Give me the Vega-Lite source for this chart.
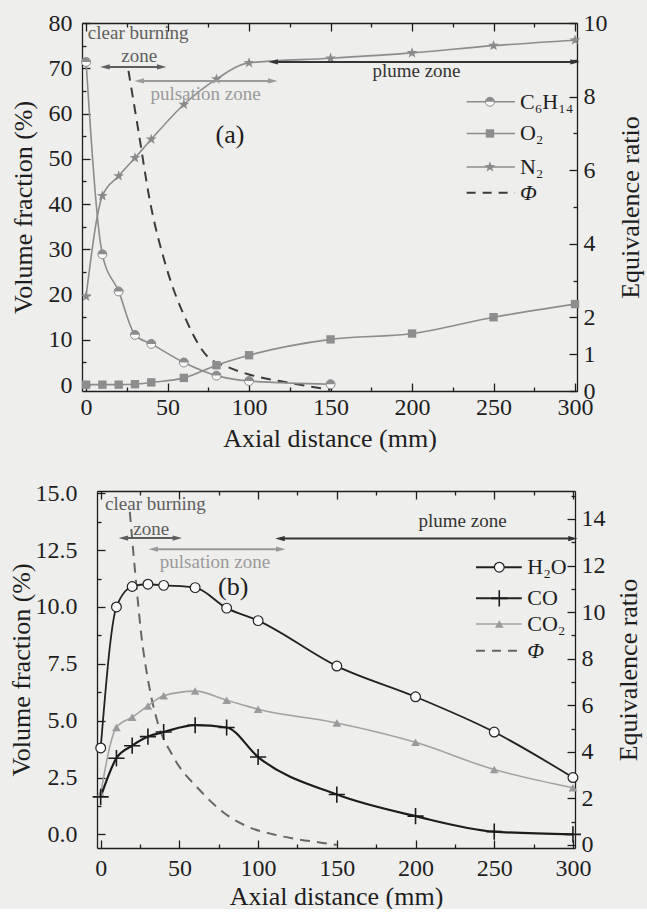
{
  "$schema": "https://vega.github.io/schema/vega-lite/v6.json",
  "background": "#eeeeec",
  "padding": {"left": 8, "top": 11, "right": 6, "bottom": 0},
  "spacing": 30,
  "config": {
    "font": "Liberation Serif",
    "view": {"stroke": null},
    "axis": {
      "domainColor": "#1e1e1e", "domainWidth": 1.3, "tickColor": "#1e1e1e", "tickWidth": 1.3,
      "labelColor": "#1e1e1e", "titleColor": "#1e1e1e", "labelFontSize": 24, "titleFontSize": 26,
      "titleFontWeight": "normal", "grid": false, "labelFont": "Liberation Serif", "titleFont": "Liberation Serif",
      "labelFlush": false, "labelOverlap": false
    }
  },
  "datasets": {
    "a_sp": [
      {"s": "C6H14", "x": 0, "y": 71.4}, {"s": "C6H14", "x": 10, "y": 28.9}, {"s": "C6H14", "x": 20, "y": 20.7},
      {"s": "C6H14", "x": 30, "y": 11.1}, {"s": "C6H14", "x": 40, "y": 9.1}, {"s": "C6H14", "x": 60, "y": 5.0},
      {"s": "C6H14", "x": 80, "y": 2.1}, {"s": "C6H14", "x": 100, "y": 0.9}, {"s": "C6H14", "x": 150, "y": 0.2},
      {"s": "O2", "x": 0, "y": 0.1}, {"s": "O2", "x": 10, "y": 0.1}, {"s": "O2", "x": 20, "y": 0.1},
      {"s": "O2", "x": 30, "y": 0.2}, {"s": "O2", "x": 40, "y": 0.6}, {"s": "O2", "x": 60, "y": 1.6},
      {"s": "O2", "x": 80, "y": 4.4}, {"s": "O2", "x": 100, "y": 6.6}, {"s": "O2", "x": 150, "y": 10.1},
      {"s": "O2", "x": 200, "y": 11.4}, {"s": "O2", "x": 250, "y": 15.0}, {"s": "O2", "x": 300, "y": 17.9},
      {"s": "N2", "x": 0, "y": 19.6}, {"s": "N2", "x": 10, "y": 41.8}, {"s": "N2", "x": 20, "y": 46.2},
      {"s": "N2", "x": 30, "y": 50.2}, {"s": "N2", "x": 40, "y": 54.3}, {"s": "N2", "x": 60, "y": 62.0},
      {"s": "N2", "x": 80, "y": 67.6}, {"s": "N2", "x": 100, "y": 71.2}, {"s": "N2", "x": 150, "y": 72.2},
      {"s": "N2", "x": 200, "y": 73.4}, {"s": "N2", "x": 250, "y": 75.0}, {"s": "N2", "x": 300, "y": 76.2}
    ],
    "a_phi": [
      {"x": 26, "phi": 8.7}, {"x": 32, "phi": 7.1}, {"x": 39, "phi": 5.2}, {"x": 49, "phi": 3.4},
      {"x": 62, "phi": 1.87}, {"x": 74, "phi": 0.96}, {"x": 87, "phi": 0.65}, {"x": 100, "phi": 0.45},
      {"x": 125, "phi": 0.22}, {"x": 150, "phi": 0.03}
    ],
    "a_leg": [
      {"s": "C6H14", "lab": "C₆H₁₄", "x1": 233.5, "x2": 263.1, "xm": 247.8, "xt": 266.2, "y": 62.6},
      {"s": "O2", "lab": "O₂", "x1": 233.5, "x2": 263.1, "xm": 247.8, "xt": 266.2, "y": 55.6},
      {"s": "N2", "lab": "N₂", "x1": 233.5, "x2": 263.1, "xm": 247.8, "xt": 266.2, "y": 48.2},
      {"s": "phi", "lab": "Φ", "x1": 233.5, "x2": 263.1, "xm": 247.8, "xt": 266.2, "y": 42.5}
    ],
    "a_ann": [
      {"t": "clear burning", "k": "clear", "x": 32.0, "y": 77.7},
      {"t": "zone", "k": "clear", "x": 32.6, "y": 72.6},
      {"t": "pulsation zone", "k": "puls", "x": 73.3, "y": 64.3},
      {"t": "plume zone", "k": "plume", "x": 202.7, "y": 69.4}
    ],
    "a_arr": [
      {"k": "clear", "x1": 11.6, "x2": 46.4, "y": 70.3},
      {"k": "puls", "x1": 32.6, "x2": 114.5, "y": 67.2},
      {"k": "plume", "x1": 114.8, "x2": 300, "y": 71.4}
    ],
    "b_sp": [
      {"s": "H2O", "x": 0, "y": 3.8}, {"s": "H2O", "x": 10, "y": 10.0}, {"s": "H2O", "x": 20, "y": 10.9},
      {"s": "H2O", "x": 30, "y": 11.0}, {"s": "H2O", "x": 40, "y": 10.95}, {"s": "H2O", "x": 60, "y": 10.85},
      {"s": "H2O", "x": 80, "y": 9.95}, {"s": "H2O", "x": 100, "y": 9.4}, {"s": "H2O", "x": 150, "y": 7.4},
      {"s": "H2O", "x": 200, "y": 6.05}, {"s": "H2O", "x": 250, "y": 4.5}, {"s": "H2O", "x": 300, "y": 2.5},
      {"s": "CO", "x": 0, "y": 1.65}, {"s": "CO", "x": 10, "y": 3.35}, {"s": "CO", "x": 20, "y": 3.9},
      {"s": "CO", "x": 30, "y": 4.3}, {"s": "CO", "x": 40, "y": 4.5}, {"s": "CO", "x": 60, "y": 4.8},
      {"s": "CO", "x": 80, "y": 4.7}, {"s": "CO", "x": 100, "y": 3.4}, {"s": "CO", "x": 150, "y": 1.75},
      {"s": "CO", "x": 200, "y": 0.8}, {"s": "CO", "x": 250, "y": 0.12}, {"s": "CO", "x": 300, "y": 0.0},
      {"s": "CO2", "x": 0, "y": 1.8}, {"s": "CO2", "x": 10, "y": 4.7}, {"s": "CO2", "x": 20, "y": 5.15},
      {"s": "CO2", "x": 30, "y": 5.65}, {"s": "CO2", "x": 40, "y": 6.1}, {"s": "CO2", "x": 60, "y": 6.3},
      {"s": "CO2", "x": 80, "y": 5.9}, {"s": "CO2", "x": 100, "y": 5.5}, {"s": "CO2", "x": 150, "y": 4.9},
      {"s": "CO2", "x": 200, "y": 4.05}, {"s": "CO2", "x": 250, "y": 2.85}, {"s": "CO2", "x": 300, "y": 2.05}
    ],
    "b_phi": [
      {"x": 18.5, "phi": 14.3}, {"x": 23, "phi": 10.9}, {"x": 26, "phi": 8.9}, {"x": 29, "phi": 7.5},
      {"x": 32, "phi": 6.4}, {"x": 36, "phi": 5.3}, {"x": 46, "phi": 3.8}, {"x": 63, "phi": 2.35},
      {"x": 76, "phi": 1.5}, {"x": 93, "phi": 0.8}, {"x": 110, "phi": 0.45}, {"x": 123, "phi": 0.27},
      {"x": 140, "phi": 0.1}, {"x": 150, "phi": 0.0}
    ],
    "b_leg": [
      {"s": "H2O", "lab": "H₂O", "x1": 238.4, "x2": 267.5, "xm": 253.2, "xt": 271.0, "y": 11.75},
      {"s": "CO", "lab": "CO", "x1": 238.4, "x2": 267.5, "xm": 253.2, "xt": 271.0, "y": 10.38},
      {"s": "CO2", "lab": "CO₂", "x1": 238.4, "x2": 267.5, "xm": 253.2, "xt": 271.0, "y": 9.25},
      {"s": "phi", "lab": "Φ", "x1": 238.4, "x2": 267.5, "xm": 253.2, "xt": 271.0, "y": 8.08}
    ],
    "b_ann": [
      {"t": "clear burning", "k": "clear", "x": 34.8, "y": 14.52},
      {"t": "zone", "k": "clear", "x": 32.1, "y": 13.42},
      {"t": "pulsation zone", "k": "puls", "x": 72.6, "y": 11.96},
      {"t": "plume zone", "k": "plume", "x": 229.9, "y": 13.78}
    ],
    "b_arr": [
      {"k": "clear", "x1": 14.4, "x2": 48.7, "y": 13.03},
      {"k": "puls", "x1": 33.4, "x2": 114.4, "y": 12.54},
      {"k": "plume", "x1": 113.9, "x2": 300, "y": 13.01}
    ]
  },
  "vconcat": [
    {
      "width": 480,
      "height": 368,
      "resolve": {"scale": {"x": "independent", "y": "independent"}},
      "layer": [
        {
          "data": {"values": [{"x": 0, "y": 0}]},
          "mark": {"type": "point", "opacity": 0},
          "encoding": {
            "x": {"field": "x", "type": "quantitative", "scale": {"domain": [-2.5, 301.2], "range": [-15, 480], "nice": false, "zero": false},
                  "axis": {"orient": "bottom", "values": [25, 75, 125, 175, 225, 275], "tickSize": -4, "labels": false, "domain": false, "title": null}},
            "y": {"field": "y", "type": "quantitative", "scale": {"domain": [-1.3, 80], "nice": false, "zero": false},
                  "axis": {"orient": "left", "offset": 15, "values": [5, 15, 25, 35, 45, 55, 65, 75], "tickSize": -4, "labels": false, "domain": false, "title": null}}
          }
        },
        {
          "data": {"values": [{"x": 0, "y": 0}]},
          "mark": {"type": "point", "opacity": 0},
          "encoding": {
            "x": {"field": "x", "type": "quantitative", "scale": {"domain": [-2.5, 301.2], "range": [-15, 480], "nice": false, "zero": false},
                  "axis": {"orient": "top", "values": [25, 75, 125, 175, 225, 275], "tickSize": -4, "labels": false, "domain": false, "title": null}},
            "y": {"field": "y", "type": "quantitative", "scale": {"domain": [0, 10], "nice": false, "zero": false},
                  "axis": {"orient": "right", "values": [3, 5, 7, 9], "tickSize": -4, "labels": false, "domain": false, "title": null}}
          }
        },
        {
          "data": {"name": "a_phi"},
          "mark": {"type": "line", "interpolate": "monotone", "color": "#3c3c3c", "strokeWidth": 2, "strokeDash": [10, 7]},
          "encoding": {
            "x": {"field": "x", "type": "quantitative", "scale": {"domain": [-2.5, 301.2], "range": [-15, 480], "nice": false, "zero": false},
                  "axis": {"orient": "top", "values": [0, 50, 100, 150, 200, 250, 300], "tickSize": -8, "labels": false, "title": null}},
            "y": {"field": "phi", "type": "quantitative", "scale": {"domain": [0, 10], "nice": false, "zero": false},
                  "axis": {"orient": "right", "values": [0, 1, 2, 4, 6, 8, 10], "tickSize": -8, "labelPadding": 14, "title": "Equivalence ratio", "titleAngle": 270, "titleBaseline": "top", "titlePadding": 10}}
          }
        },
        {
          "layer": [
            {
              "data": {"name": "a_sp"},
              "mark": {"type": "line", "interpolate": "monotone", "color": "#8c8c8c", "strokeWidth": 1.6},
              "encoding": {
                "x": {"field": "x", "type": "quantitative", "scale": {"domain": [-2.5, 301.2], "range": [-15, 480], "nice": false, "zero": false},
                      "axis": {"orient": "bottom", "values": [0, 50, 100, 150, 200, 250, 300], "tickSize": -8, "labelPadding": 12, "title": "Axial distance (mm)", "titlePadding": 6}},
                "y": {"field": "y", "type": "quantitative", "scale": {"domain": [-1.3, 80], "nice": false, "zero": false},
                      "axis": {"orient": "left", "offset": 15, "values": [0, 10, 20, 30, 40, 50, 60, 70, 80], "tickSize": -8, "labelPadding": 18, "title": "Volume fraction (%)", "titlePadding": 12}},
                "detail": {"field": "s"}
              }
            },
            {
              "data": {"name": "a_sp"},
              "transform": [{"filter": "datum.s === 'O2'"}],
              "mark": {"type": "point", "shape": "square", "filled": true, "color": "#8d8d8d", "size": 70, "opacity": 1},
              "encoding": {"x": {"field": "x", "type": "quantitative"}, "y": {"field": "y", "type": "quantitative"}}
            },
            {
              "data": {"name": "a_sp"},
              "transform": [{"filter": "datum.s === 'N2'"}],
              "mark": {"type": "point", "shape": "M0,-1L0.235,-0.324L0.951,-0.309L0.38,0.124L0.588,0.809L0,0.4L-0.588,0.809L-0.38,0.124L-0.951,-0.309L-0.235,-0.324Z", "filled": true, "color": "#8a8a8a", "size": 130, "opacity": 1},
              "encoding": {"x": {"field": "x", "type": "quantitative"}, "y": {"field": "y", "type": "quantitative"}}
            },
            {
              "data": {"name": "a_sp"},
              "transform": [{"filter": "datum.s === 'C6H14'"}],
              "mark": {"type": "point", "shape": "circle", "filled": true, "fill": "#fafafa", "stroke": "#8c8c8c", "strokeWidth": 1, "size": 80, "opacity": 1},
              "encoding": {"x": {"field": "x", "type": "quantitative"}, "y": {"field": "y", "type": "quantitative"}}
            },
            {
              "data": {"name": "a_sp"},
              "transform": [{"filter": "datum.s === 'C6H14'"}],
              "mark": {"type": "point", "shape": "M-1,0A1,1,0,0,1,1,0Z", "filled": true, "color": "#8c8c8c", "size": 80, "opacity": 1},
              "encoding": {"x": {"field": "x", "type": "quantitative"}, "y": {"field": "y", "type": "quantitative"}}
            },
            {
              "data": {"name": "a_arr"},
              "mark": {"type": "rule", "strokeWidth": 2},
              "encoding": {
                "x": {"field": "x1", "type": "quantitative"}, "x2": {"field": "x2"}, "y": {"field": "y", "type": "quantitative"},
                "color": {"field": "k", "type": "nominal", "scale": {"domain": ["clear", "puls", "plume"], "range": ["#5e5e5e", "#9a9a9a", "#333333"]}, "legend": null}
              }
            },
            {
              "data": {"name": "a_arr"},
              "mark": {"type": "point", "shape": "M-1,0L1,-0.55L1,0.55Z", "filled": true, "size": 90, "opacity": 1},
              "encoding": {
                "x": {"field": "x1", "type": "quantitative"}, "y": {"field": "y", "type": "quantitative"},
                "color": {"field": "k", "type": "nominal", "legend": null}
              }
            },
            {
              "data": {"name": "a_arr"},
              "mark": {"type": "point", "shape": "M1,0L-1,-0.55L-1,0.55Z", "filled": true, "size": 90, "opacity": 1},
              "encoding": {
                "x": {"field": "x2", "type": "quantitative"}, "y": {"field": "y", "type": "quantitative"},
                "color": {"field": "k", "type": "nominal", "legend": null}
              }
            },
            {
              "data": {"name": "a_ann"},
              "mark": {"type": "text", "fontSize": 19, "align": "center", "baseline": "middle"},
              "encoding": {
                "x": {"field": "x", "type": "quantitative"}, "y": {"field": "y", "type": "quantitative"},
                "text": {"field": "t"},
                "color": {"field": "k", "type": "nominal", "legend": null}
              }
            },
            {
              "data": {"values": [{"t": "(a)", "x": 88.3, "y": 55.2}]},
              "mark": {"type": "text", "fontSize": 26, "align": "center", "baseline": "middle", "color": "#1e1e1e"},
              "encoding": {"x": {"field": "x", "type": "quantitative"}, "y": {"field": "y", "type": "quantitative"}, "text": {"field": "t"}}
            },
            {
              "data": {"name": "a_leg"},
              "transform": [{"filter": "datum.s !== 'phi'"}],
              "mark": {"type": "rule", "strokeWidth": 1.6, "color": "#8c8c8c"},
              "encoding": {"x": {"field": "x1", "type": "quantitative"}, "x2": {"field": "x2"}, "y": {"field": "y", "type": "quantitative"}}
            },
            {
              "data": {"name": "a_leg"},
              "transform": [{"filter": "datum.s === 'phi'"}],
              "mark": {"type": "rule", "strokeWidth": 2, "color": "#3c3c3c", "strokeDash": [9, 7]},
              "encoding": {"x": {"field": "x1", "type": "quantitative"}, "x2": {"field": "x2"}, "y": {"field": "y", "type": "quantitative"}}
            },
            {
              "data": {"name": "a_leg"},
              "transform": [{"filter": "datum.s === 'O2'"}],
              "mark": {"type": "point", "shape": "square", "filled": true, "color": "#8d8d8d", "size": 70, "opacity": 1},
              "encoding": {"x": {"field": "xm", "type": "quantitative"}, "y": {"field": "y", "type": "quantitative"}}
            },
            {
              "data": {"name": "a_leg"},
              "transform": [{"filter": "datum.s === 'N2'"}],
              "mark": {"type": "point", "shape": "M0,-1L0.235,-0.324L0.951,-0.309L0.38,0.124L0.588,0.809L0,0.4L-0.588,0.809L-0.38,0.124L-0.951,-0.309L-0.235,-0.324Z", "filled": true, "color": "#8a8a8a", "size": 130, "opacity": 1},
              "encoding": {"x": {"field": "xm", "type": "quantitative"}, "y": {"field": "y", "type": "quantitative"}}
            },
            {
              "data": {"name": "a_leg"},
              "transform": [{"filter": "datum.s === 'C6H14'"}],
              "mark": {"type": "point", "shape": "circle", "filled": true, "fill": "#fafafa", "stroke": "#8c8c8c", "strokeWidth": 1, "size": 80, "opacity": 1},
              "encoding": {"x": {"field": "xm", "type": "quantitative"}, "y": {"field": "y", "type": "quantitative"}}
            },
            {
              "data": {"name": "a_leg"},
              "transform": [{"filter": "datum.s === 'C6H14'"}],
              "mark": {"type": "point", "shape": "M-1,0A1,1,0,0,1,1,0Z", "filled": true, "color": "#8c8c8c", "size": 80, "opacity": 1},
              "encoding": {"x": {"field": "xm", "type": "quantitative"}, "y": {"field": "y", "type": "quantitative"}}
            },
            {
              "data": {"name": "a_leg"},
              "transform": [{"filter": "datum.s !== 'phi'"}],
              "mark": {"type": "text", "fontSize": 22, "align": "left", "baseline": "middle", "color": "#1e1e1e"},
              "encoding": {"x": {"field": "xt", "type": "quantitative"}, "y": {"field": "y", "type": "quantitative"}, "text": {"field": "lab"}}
            },
            {
              "data": {"name": "a_leg"},
              "transform": [{"filter": "datum.s === 'phi'"}],
              "mark": {"type": "text", "fontSize": 22, "fontStyle": "italic", "align": "left", "baseline": "middle", "color": "#1e1e1e"},
              "encoding": {"x": {"field": "xt", "type": "quantitative"}, "y": {"field": "y", "type": "quantitative"}, "text": {"field": "lab"}}
            }
          ]
        }
      ]
    },
    {
      "width": 478,
      "height": 357,
      "resolve": {"scale": {"x": "independent", "y": "independent"}},
      "layer": [
        {
          "data": {"values": [{"x": 0, "y": 0}]},
          "mark": {"type": "point", "opacity": 0},
          "encoding": {
            "x": {"field": "x", "type": "quantitative", "scale": {"domain": [-2.35, 301.3], "nice": false, "zero": false},
                  "axis": {"orient": "bottom", "values": [25, 75, 125, 175, 225, 275], "tickSize": -4, "labels": false, "domain": false, "title": null}},
            "y": {"field": "y", "type": "quantitative", "scale": {"domain": [-0.6, 15.1], "nice": false, "zero": false},
                  "axis": {"orient": "left", "values": [1.25, 3.75, 6.25, 8.75, 11.25, 13.75], "tickSize": -4, "labels": false, "domain": false, "title": null}}
          }
        },
        {
          "data": {"values": [{"x": 0, "y": 0}]},
          "mark": {"type": "point", "opacity": 0},
          "encoding": {
            "x": {"field": "x", "type": "quantitative", "scale": {"domain": [-2.35, 301.3], "nice": false, "zero": false},
                  "axis": {"orient": "top", "values": [25, 75, 125, 175, 225, 275], "tickSize": -4, "labels": false, "domain": false, "title": null}},
            "y": {"field": "y", "type": "quantitative", "scale": {"domain": [-0.13, 15.2], "nice": false, "zero": false},
                  "axis": {"orient": "right", "values": [1, 3, 5, 7, 9, 11, 13, 15], "tickSize": -4, "labels": false, "domain": false, "title": null}}
          }
        },
        {
          "data": {"name": "b_phi"},
          "mark": {"type": "line", "interpolate": "monotone", "color": "#666666", "strokeWidth": 2, "strokeDash": [10, 7]},
          "encoding": {
            "x": {"field": "x", "type": "quantitative", "scale": {"domain": [-2.35, 301.3], "nice": false, "zero": false},
                  "axis": {"orient": "top", "values": [0, 50, 100, 150, 200, 250, 300], "tickSize": -8, "labels": false, "title": null}},
            "y": {"field": "phi", "type": "quantitative", "scale": {"domain": [-0.13, 15.2], "nice": false, "zero": false},
                  "axis": {"orient": "right", "values": [0, 2, 4, 6, 8, 10, 12, 14], "tickSize": -8, "labelPadding": 14, "title": "Equivalence ratio", "titleAngle": 270, "titleBaseline": "top", "titlePadding": 10}}
          }
        },
        {
          "layer": [
            {
              "data": {"name": "b_sp"},
              "transform": [{"filter": "datum.s === 'CO2'"}],
              "mark": {"type": "line", "interpolate": "monotone", "color": "#a2a2a2", "strokeWidth": 1.6},
              "encoding": {
                "x": {"field": "x", "type": "quantitative", "scale": {"domain": [-2.35, 301.3], "nice": false, "zero": false},
                      "axis": {"orient": "bottom", "values": [0, 50, 100, 150, 200, 250, 300], "tickSize": -8, "labelPadding": 16, "title": "Axial distance (mm)", "titlePadding": 3}},
                "y": {"field": "y", "type": "quantitative", "scale": {"domain": [-0.6, 15.1], "nice": false, "zero": false},
                      "axis": {"orient": "left", "values": [0, 2.5, 5, 7.5, 10, 12.5, 15], "format": ".1f", "tickSize": -8, "labelPadding": 28, "title": "Volume fraction (%)", "titlePadding": 1}}
              }
            },
            {
              "data": {"name": "b_sp"},
              "transform": [{"filter": "datum.s === 'H2O'"}],
              "mark": {"type": "line", "interpolate": "monotone", "color": "#222222", "strokeWidth": 1.8},
              "encoding": {"x": {"field": "x", "type": "quantitative"}, "y": {"field": "y", "type": "quantitative"}}
            },
            {
              "data": {"name": "b_sp"},
              "transform": [{"filter": "datum.s === 'CO'"}],
              "mark": {"type": "line", "interpolate": "monotone", "color": "#1c1c1c", "strokeWidth": 2.2},
              "encoding": {"x": {"field": "x", "type": "quantitative"}, "y": {"field": "y", "type": "quantitative"}}
            },
            {
              "data": {"name": "b_sp"},
              "transform": [{"filter": "datum.s === 'CO2'"}],
              "mark": {"type": "point", "shape": "triangle-up", "filled": true, "color": "#9a9a9a", "size": 75, "opacity": 1},
              "encoding": {"x": {"field": "x", "type": "quantitative"}, "y": {"field": "y", "type": "quantitative"}}
            },
            {
              "data": {"name": "b_sp"},
              "transform": [{"filter": "datum.s === 'H2O'"}],
              "mark": {"type": "point", "shape": "circle", "filled": true, "fill": "#fafafa", "stroke": "#222222", "strokeWidth": 1.2, "size": 95, "opacity": 1},
              "encoding": {"x": {"field": "x", "type": "quantitative"}, "y": {"field": "y", "type": "quantitative"}}
            },
            {
              "data": {"name": "b_sp"},
              "transform": [{"filter": "datum.s === 'CO'"}],
              "mark": {"type": "point", "shape": "M-1,0L1,0M0,-1L0,1", "filled": false, "color": "#1c1c1c", "strokeWidth": 1.6, "size": 260, "opacity": 1},
              "encoding": {"x": {"field": "x", "type": "quantitative"}, "y": {"field": "y", "type": "quantitative"}}
            },
            {
              "data": {"name": "b_arr"},
              "mark": {"type": "rule", "strokeWidth": 2},
              "encoding": {
                "x": {"field": "x1", "type": "quantitative"}, "x2": {"field": "x2"}, "y": {"field": "y", "type": "quantitative"},
                "color": {"field": "k", "type": "nominal", "scale": {"domain": ["clear", "puls", "plume"], "range": ["#5e5e5e", "#9a9a9a", "#262626"]}, "legend": null}
              }
            },
            {
              "data": {"name": "b_arr"},
              "mark": {"type": "point", "shape": "M-1,0L1,-0.55L1,0.55Z", "filled": true, "size": 90, "opacity": 1},
              "encoding": {
                "x": {"field": "x1", "type": "quantitative"}, "y": {"field": "y", "type": "quantitative"},
                "color": {"field": "k", "type": "nominal", "legend": null}
              }
            },
            {
              "data": {"name": "b_arr"},
              "mark": {"type": "point", "shape": "M1,0L-1,-0.55L-1,0.55Z", "filled": true, "size": 90, "opacity": 1},
              "encoding": {
                "x": {"field": "x2", "type": "quantitative"}, "y": {"field": "y", "type": "quantitative"},
                "color": {"field": "k", "type": "nominal", "legend": null}
              }
            },
            {
              "data": {"name": "b_ann"},
              "mark": {"type": "text", "fontSize": 19, "align": "center", "baseline": "middle"},
              "encoding": {
                "x": {"field": "x", "type": "quantitative"}, "y": {"field": "y", "type": "quantitative"},
                "text": {"field": "t"},
                "color": {"field": "k", "type": "nominal", "legend": null}
              }
            },
            {
              "data": {"values": [{"t": "(b)", "x": 84.2, "y": 10.86}]},
              "mark": {"type": "text", "fontSize": 26, "align": "center", "baseline": "middle", "color": "#1e1e1e"},
              "encoding": {"x": {"field": "x", "type": "quantitative"}, "y": {"field": "y", "type": "quantitative"}, "text": {"field": "t"}}
            },
            {
              "data": {"name": "b_leg"},
              "transform": [{"filter": "datum.s === 'H2O' || datum.s === 'CO'"}],
              "mark": {"type": "rule", "strokeWidth": 2, "color": "#222222"},
              "encoding": {"x": {"field": "x1", "type": "quantitative"}, "x2": {"field": "x2"}, "y": {"field": "y", "type": "quantitative"}}
            },
            {
              "data": {"name": "b_leg"},
              "transform": [{"filter": "datum.s === 'CO2'"}],
              "mark": {"type": "rule", "strokeWidth": 1.6, "color": "#a2a2a2"},
              "encoding": {"x": {"field": "x1", "type": "quantitative"}, "x2": {"field": "x2"}, "y": {"field": "y", "type": "quantitative"}}
            },
            {
              "data": {"name": "b_leg"},
              "transform": [{"filter": "datum.s === 'phi'"}],
              "mark": {"type": "rule", "strokeWidth": 2, "color": "#666666", "strokeDash": [9, 7]},
              "encoding": {"x": {"field": "x1", "type": "quantitative"}, "x2": {"field": "x2"}, "y": {"field": "y", "type": "quantitative"}}
            },
            {
              "data": {"name": "b_leg"},
              "transform": [{"filter": "datum.s === 'CO2'"}],
              "mark": {"type": "point", "shape": "triangle-up", "filled": true, "color": "#9a9a9a", "size": 75, "opacity": 1},
              "encoding": {"x": {"field": "xm", "type": "quantitative"}, "y": {"field": "y", "type": "quantitative"}}
            },
            {
              "data": {"name": "b_leg"},
              "transform": [{"filter": "datum.s === 'H2O'"}],
              "mark": {"type": "point", "shape": "circle", "filled": true, "fill": "#fafafa", "stroke": "#222222", "strokeWidth": 1.2, "size": 95, "opacity": 1},
              "encoding": {"x": {"field": "xm", "type": "quantitative"}, "y": {"field": "y", "type": "quantitative"}}
            },
            {
              "data": {"name": "b_leg"},
              "transform": [{"filter": "datum.s === 'CO'"}],
              "mark": {"type": "point", "shape": "M-1,0L1,0M0,-1L0,1", "filled": false, "color": "#1c1c1c", "strokeWidth": 1.6, "size": 260, "opacity": 1},
              "encoding": {"x": {"field": "xm", "type": "quantitative"}, "y": {"field": "y", "type": "quantitative"}}
            },
            {
              "data": {"name": "b_leg"},
              "transform": [{"filter": "datum.s !== 'phi'"}],
              "mark": {"type": "text", "fontSize": 22, "align": "left", "baseline": "middle", "color": "#1e1e1e"},
              "encoding": {"x": {"field": "xt", "type": "quantitative"}, "y": {"field": "y", "type": "quantitative"}, "text": {"field": "lab"}}
            },
            {
              "data": {"name": "b_leg"},
              "transform": [{"filter": "datum.s === 'phi'"}],
              "mark": {"type": "text", "fontSize": 22, "fontStyle": "italic", "align": "left", "baseline": "middle", "color": "#1e1e1e"},
              "encoding": {"x": {"field": "xt", "type": "quantitative"}, "y": {"field": "y", "type": "quantitative"}, "text": {"field": "lab"}}
            }
          ]
        }
      ]
    }
  ]
}
